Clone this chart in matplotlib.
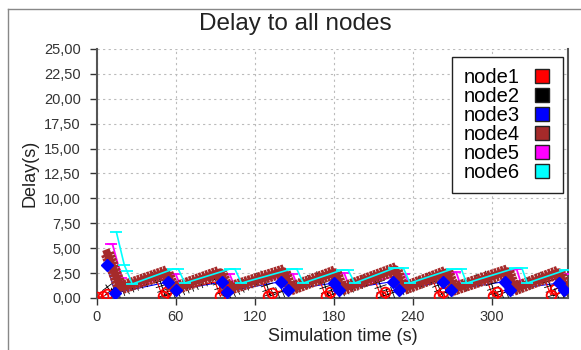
import numpy as np
import matplotlib
matplotlib.use("Agg")
import matplotlib.pyplot as plt
import matplotlib.patheffects as pe
from matplotlib.lines import Line2D
from matplotlib.ticker import FuncFormatter, MultipleLocator

plt.rcParams['font.family'] = ['Liberation Sans', 'DejaVu Sans']

# node1 (red): drop at each event, open circles on the low points
t1 = [0.5, 5, 8, 46, 50, 53, 90, 94, 97, 126, 130, 133, 170, 174, 177, 212, 216, 219,
      256, 260, 263, 297, 301, 304, 341, 345, 348, 358]
d1 = [0.1, 0.15, 0.4, 1.6, 0.15, 0.6, 1.6, 0.15, 0.9, 1.6, 0.2, 0.5, 1.6, 0.15, 0.6, 1.5, 0.2, 0.6,
      1.6, 0.15, 0.6, 1.6, 0.15, 0.6, 1.6, 0.3, 0.9, 1.2]
# node2 (black)
t2 = [7, 12, 47, 52, 91, 96, 127, 132, 171, 176, 213, 218, 257, 262, 298, 303, 342, 347, 358]
d2 = [1.3, 0.4, 2.2, 0.2, 2.2, 0.2, 2.2, 0.2, 2.2, 0.2, 2.2, 0.2, 2.1, 0.4, 2.2, 0.2, 2.2, 0.2, 0.9]
# node3 (blue)
t3 = [8, 14, 54, 60, 95, 99, 140, 145, 180, 184, 225, 230, 263, 269, 310, 314, 351, 355]
d3 = [3.3, 0.5, 1.6, 0.8, 1.6, 0.65, 1.65, 0.8, 1.5, 0.8, 1.65, 0.8, 1.65, 0.8, 1.65, 0.85, 1.5, 0.8]
# node4 (brown)
t4 = [8, 13, 18, 53, 58, 94, 99, 142, 147, 181, 186, 227, 232, 266, 271, 312, 317, 351, 356, 358]
d4 = [4.5, 2.8, 1.0, 2.6, 0.9, 2.6, 0.9, 2.7, 0.9, 2.6, 0.9, 2.9, 0.9, 2.6, 0.9, 2.7, 0.9, 2.6, 0.9, 0.9]
# node5 (magenta)
t5 = [10, 12, 19, 23, 60, 64, 101, 105, 149, 153, 188, 192, 234, 238, 273, 277, 319, 323, 358]
d5 = [5.4, 5.4, 2.0, 1.0, 2.4, 1.1, 2.4, 1.1, 2.4, 1.1, 2.5, 1.1, 2.4, 1.1, 2.6, 1.1, 2.9, 1.2, 2.4]
# node6 (cyan)
t6 = [15, 21, 23, 27, 58, 62, 67, 101, 105, 110, 148, 152, 157, 186, 191, 196, 226, 233, 238,
      270, 277, 281, 318, 323, 327, 356, 358]
d6 = [6.6, 3.3, 2.7, 1.4, 2.9, 2.9, 1.5, 2.9, 2.9, 1.5, 2.9, 2.9, 1.5, 2.8, 2.8, 1.5, 3.0, 3.0, 1.5,
      2.9, 2.9, 1.5, 3.0, 3.0, 1.5, 2.8, 2.8]

labels = ["node1", "node2", "node3", "node4", "node5", "node6"]
colors = ["#ff0000", "#000000", "#0000ff", "#a52a2a", "#ff00ff", "#00ffff"]

fig = plt.figure(figsize=(5.81, 3.5), dpi=100)
ax = fig.add_axes([0.1664, 0.1486, 0.8112, 0.7114])


def ticked(spacing, length, **kw):
    # ticks on both sides of the path, like densely packed markers
    return [pe.TickedStroke(angle=90, spacing=spacing, length=length, **kw),
            pe.TickedStroke(angle=-90, spacing=spacing, length=length, **kw),
            pe.Normal()]


ax.plot(t1, d1, color=colors[0], lw=0.8, zorder=3)
ax.plot(t3, d3, color=colors[2], lw=0.8, zorder=2)
ax.plot(t5, d5, color=colors[4], lw=1.3, marker="_", ms=7, mew=1.3, zorder=3)
ax.plot(t2, d2, color=colors[1], lw=0.7, zorder=4,
        path_effects=ticked(3.5, 1.2, linewidth=0.6))
ax.plot(t4, d4, color=colors[3], lw=5.5, zorder=5,
        path_effects=ticked(2.5, 1.5, linewidth=2.0))
ax.plot(t6, d6, color=colors[5], lw=1.2, marker="_", ms=8, mew=1.3, zorder=6)
low1 = np.asarray(d1) < 1.0
ax.plot(np.asarray(t1)[low1], np.asarray(d1)[low1],
        ls="none", marker="o", ms=7, mfc="none", mec=colors[0], mew=1.3, zorder=7)
ax.plot(t3, d3, ls="none", color=colors[2], marker="D", ms=6.5, zorder=8)

ax.set_xlim(0, 358)
ax.set_ylim(0, 25)
ax.xaxis.set_major_locator(MultipleLocator(60))
ax.yaxis.set_major_locator(MultipleLocator(2.5))
ax.yaxis.set_major_formatter(FuncFormatter(lambda v, p: f"{v:.2f}".replace(".", ",")))
ax.tick_params(direction="out", length=5, width=1.0, color="#333333",
               labelsize=10.5, labelcolor="#333333")
ax.tick_params(axis="y", pad=6.5)
ax.tick_params(axis="x", pad=4)
ax.grid(True, color="#bbbbbb", linestyle=(0, (2, 3)), lw=0.8)
ax.spines["top"].set_visible(False)
for sp in ("left", "right", "bottom"):
    ax.spines[sp].set_color("#555555")
    ax.spines[sp].set_linewidth(1.5)

fig.suptitle("Delay to all nodes", x=0.508, y=0.962, fontsize=17.5, color="#222222")
ax.set_xlabel("Simulation time (s)", fontsize=13, color="#222222")
ax.xaxis.set_label_coords(0.522, -0.122)
ax.set_ylabel("Delay(s)", fontsize=13, color="#222222", labelpad=4)

handles = [Line2D([], [], ls="none", marker="s", ms=9.5, mfc=c, mec="#222222", mew=1.0)
           for c in colors]
leg = ax.legend(handles, labels, loc="upper right", bbox_to_anchor=(0.989, 0.968),
                markerfirst=False, fontsize=14.5, labelspacing=0.0, handlelength=1.0,
                handletextpad=0.6, borderpad=0.55, borderaxespad=0, fancybox=False,
                framealpha=1, edgecolor="#222222")
leg.get_frame().set_linewidth(1.0)

# window border of the original screenshot
fig.add_artist(Line2D([8 / 581, 8 / 581], [0, 1 - 9 / 350], color="#888888", lw=1))
fig.add_artist(Line2D([8 / 581, 1], [1 - 9 / 350, 1 - 9 / 350], color="#888888", lw=1))

fig.savefig("out.png", dpi=100)
